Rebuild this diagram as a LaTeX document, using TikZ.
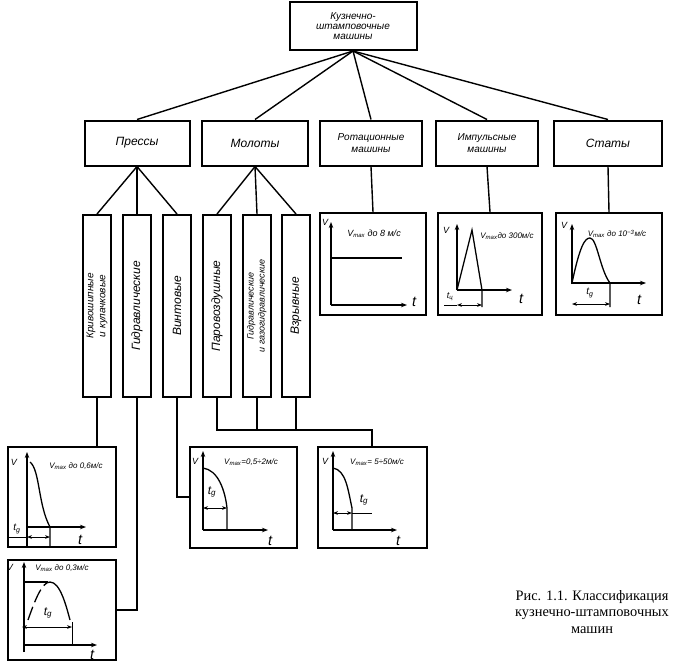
\documentclass[tikz,border=0pt]{standalone}
\usepackage{fontspec}
\setmainfont{Liberation Serif}
\newfontfamily\hand{Liberation Sans}
\usetikzlibrary{arrows.meta}
\newcommand{\vmax}{V\textsubscript{max}}
\begin{document}
\begin{tikzpicture}[x=1pt,y=-1pt,
    box/.style={draw,line width=2pt,inner sep=1pt,align=center,font=\hand\itshape\large},
    vbox/.style={box,minimum width=28pt,minimum height=182pt},
    gbox/.style={draw,line width=2pt,inner sep=0pt},
    link/.style={line width=1.4pt},
    ax/.style={line width=1.3pt,-{Stealth[length=6pt]}},
    dim/.style={line width=1pt,{Stealth[length=5pt]}-{Stealth[length=5pt]}},
    lbl/.style={font=\hand\itshape\small,inner sep=0pt},
    big/.style={font=\hand\itshape\Large,inner sep=0pt}]
\useasboundingbox (0,0) rectangle (677,662);
% upper levels
\node[box,minimum width=127pt,minimum height=48pt,inner sep=0pt,font=\hand\itshape\normalsize\linespread{0.85}\selectfont] (root) at (353,26) {Кузнечно-\\штамповочные\\машины};
\node[box,minimum width=105pt,minimum height=45pt] (press) at (137,143) {Прессы};
\node[box,minimum width=106pt,minimum height=45pt] (hammer) at (255,143) {Молоты};
\node[box,minimum width=102pt,minimum height=45pt,font=\hand\itshape\normalsize] (rot) at (371,143) {Ротационные\\машины};
\node[box,minimum width=102pt,minimum height=45pt,font=\hand\itshape\normalsize] (imp) at (487,143) {Импульсные\\машины};
\node[box,minimum width=108pt,minimum height=45pt] (stat) at (608,143) {Статы};
\foreach \n in {press,hammer,rot,imp,stat} \draw[link] (root.south) -- (\n.north);
% vertical boxes
\node[vbox,font=\hand\itshape\normalsize] (crank) at (97,306) {\rotatebox{90}{\begin{tabular}{@{}c@{}}Кривошипные\\и кулачковые\end{tabular}}};
\node[vbox] (hydr) at (137,306) {\rotatebox{90}{Гидравлические}};
\node[vbox] (screw) at (177,306) {\rotatebox{90}{Винтовые}};
\node[vbox] (steam) at (217,306) {\rotatebox{90}{Паровоздушные}};
\node[vbox,font=\hand\itshape\small] (gas) at (257,306) {\rotatebox{90}{\begin{tabular}{@{}c@{}}Гидравлические\\и газогидравлические\end{tabular}}};
\node[vbox] (blast) at (296,306) {\rotatebox{90}{Взрывные}};
\foreach \n in {crank,hydr,screw} \draw[link] (press.south) -- (\n.north);
\foreach \n in {steam,gas,blast} \draw[link] (hammer.south) -- (\n.north);
% graph boxes
\node[gbox,minimum width=106pt,minimum height=102pt] (grot) at (373,264) {};
\node[gbox,minimum width=104pt,minimum height=102pt] (gimp) at (490,264) {};
\node[gbox,minimum width=106pt,minimum height=102pt] (gstat) at (609,264) {};
\node[gbox,minimum width=108pt,minimum height=100pt] (gcrank) at (62,497) {};
\node[gbox,minimum width=108pt,minimum height=100pt] (ghydr) at (62,610) {};
\node[gbox,minimum width=107pt,minimum height=101pt] (gscrew) at (243,497) {};
\node[gbox,minimum width=109pt,minimum height=101pt] (gham) at (372,497) {};
\draw[link] (rot.south) -- (grot.north);
\draw[link] (imp.south) -- (gimp.north);
\draw[link] (stat.south) -- (gstat.north);
\draw[link] (crank.south) -- (gcrank.north -| crank.south);
\draw[link] (hydr.south) |- (ghydr.east);
\draw[link] (screw.south) |- (gscrew.west);
\coordinate (bus) at (0,430);
\draw[link] (steam.south) -- (steam.south |- bus) -| (gham.north);
\draw[link] (gas.south) -- (gas.south |- bus);
\draw[link] (blast.south) -- (blast.south |- bus);
% Ротационные
\draw[ax] (331,305) -- (331,222);
\draw[ax] (331,305) -- (407,305);
\draw[line width=1.3pt] (331,258) -- (402,258);
\node[lbl] at (325,222) {V};
\node[lbl] at (374,234) {\vmax{} до 8 м/с};
\node[big] at (414,302) {t};
% Импульсные
\draw[ax] (457,290) -- (457,224);
\draw[ax] (457,290) -- (512,290);
\draw[line width=1.3pt] (457,290) -- (472,230) -- (482,290) -- (482,307);
\draw[line width=1pt] (444,305) -- (457,305);
\draw[dim] (457,305) -- (482,305);
\node[lbl] at (446,230) {V};
\node[lbl,font=\hand\itshape\footnotesize] at (507,236) {\vmax{}до 300м/с};
\node[lbl] at (450,297) {t\textsubscript{ц}};
\node[big] at (521,299) {t};
% Статы
\draw[ax] (572,284) -- (572,224);
\draw[ax] (572,283) -- (646,283);
\draw[line width=1.3pt] (572,283) .. controls (580,245) and (585,238) .. (590,238) .. controls (597,238) and (600,270) .. (610,283) -- (610,307);
\draw[dim] (572,304) -- (610,304);
\node[lbl] at (564,225) {V};
\node[lbl,font=\hand\itshape\footnotesize] at (617,234) {\vmax{} до 10\textsuperscript{−3}м/с};
\node[lbl,font=\hand\itshape\normalsize] at (590,293) {t\textsubscript{g}};
\node[big] at (639,300) {t};
% Кривошипные
\draw[ax] (27,547) -- (27,452);
\draw[ax] (27,527) -- (86,527);
\draw[line width=1.3pt] (30,462) .. controls (40,470) and (38,505) .. (50,527) -- (50,547);
\draw[line width=1pt] (8,537) -- (27,537);
\draw[dim] (27,537) -- (50,537);
\node[lbl] at (14,462) {V};
\node[lbl,font=\hand\itshape\footnotesize] at (76,466) {\vmax{} до 0,6м/с};
\node[lbl,font=\hand\itshape\normalsize] at (17,529) {t\textsubscript{g}};
\node[big] at (80,540) {t};
% Гидравлические
\draw[ax] (24,652) -- (24,562);
\draw[ax] (24,645) -- (97,645);
\draw[line width=1.3pt] (24,582) -- (48,582);
\draw[line width=1.3pt,dash pattern=on 14pt off 5pt] (28,620) .. controls (35,600) and (42,582) .. (50,582);
\draw[line width=1.3pt] (50,582) .. controls (60,582) and (66,605) .. (70,620);
\draw[line width=1pt] (72,622) -- (72,645);
\draw[dim] (22,627) -- (72,627);
\node[lbl] at (10,567) {V};
\node[lbl,font=\hand\itshape\footnotesize] at (62,568) {\vmax{} до 0,3м/с};
\node[lbl,font=\hand\itshape\large] at (48,613) {t\textsubscript{g}};
\node[big] at (92,655) {t};
% Винтовые
\draw[ax] (203,530) -- (203,451);
\draw[ax] (203,530) -- (268,530);
\draw[line width=1.3pt] (203,468) .. controls (218,470) and (225,490) .. (227,508) -- (227,530);
\draw[dim] (203,508) -- (227,508);
\node[lbl] at (195,461) {V};
\node[lbl,font=\hand\itshape\footnotesize] at (251,462) {\vmax{}=0,5÷2м/с};
\node[lbl,font=\hand\itshape\large] at (212,492) {t\textsubscript{g}};
\node[big] at (270,541) {t};
% Молоты
\draw[ax] (333,530) -- (333,451);
\draw[ax] (333,530) -- (397,530);
\draw[line width=1.3pt] (333,468) .. controls (346,470) and (348,490) .. (352,508) -- (352,530);
\draw[dim] (333,513) -- (352,513);
\draw[line width=1pt] (352,513) -- (372,513);
\node[lbl] at (325,461) {V};
\node[lbl,font=\hand\itshape\footnotesize] at (377,462) {\vmax{}= 5÷50м/с};
\node[lbl,font=\hand\itshape\large] at (364,500) {t\textsubscript{g}};
\node[big] at (398,541) {t};
% caption
\node[align=center,font=\Large\linespread{0.9}\selectfont] (cap) at (592,612) {Рис. 1.1. Классификация\\кузнечно-штамповочных\\машин};
\end{tikzpicture}
\end{document}
